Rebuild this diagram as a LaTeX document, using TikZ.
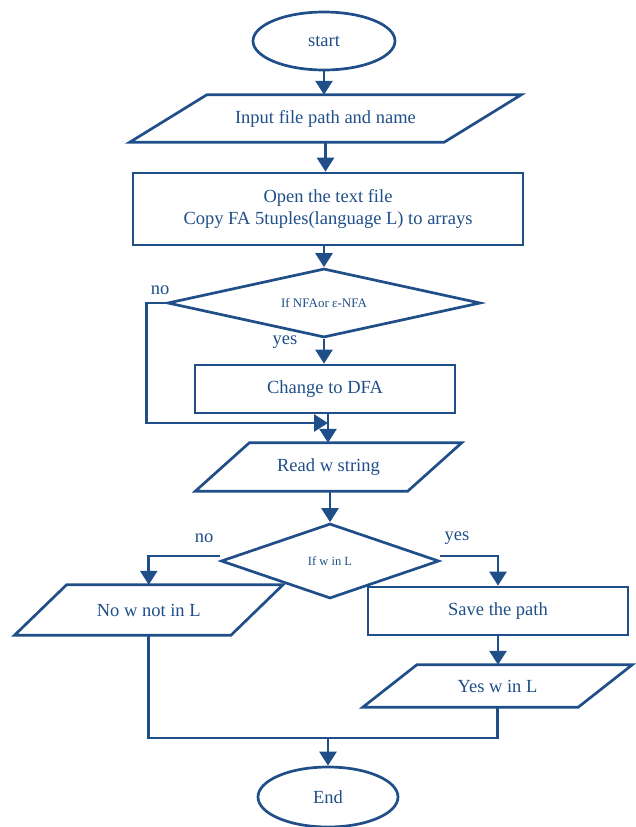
\documentclass[tikz,border=0pt]{standalone}
\usepackage{fontspec}
\setmainfont{Liberation Serif}
\usetikzlibrary{arrows.meta,shapes.geometric}
\definecolor{fc}{RGB}{31,78,137}
\begin{document}
\begin{tikzpicture}[x=1pt,y=-1pt,
  every node/.style={text=fc,font=\fontsize{18.5}{22}\selectfont},
  ln/.style={draw=fc,line width=2.7pt},
  arr/.style={ln,-{Triangle[length=14pt,width=17pt]}},
  term/.style={ln,ellipse,inner sep=0pt},
  proc/.style={ln,rectangle,inner sep=0pt},
  decis/.style={ln,diamond,inner sep=0pt,font=\fontsize{13}{15}\selectfont},
  iobox/.style={rectangle,inner sep=0pt},
  lbl/.style={font=\fontsize{18.5}{22}\selectfont}]
\useasboundingbox (0,0) rectangle (635,827);
% nodes
\node[term,minimum width=142pt,minimum height=58pt] (start) at (324,41) {start};
\node[iobox,minimum width=314pt,minimum height=47pt] (inp) at (325.5,118.5) {Input file path and name};
\draw[ln] ([xshift=38.5pt]inp.north west) -- ([xshift=38.5pt]inp.north east) -- ([xshift=-38.5pt]inp.south east) -- ([xshift=-38.5pt]inp.south west) -- cycle;
\node[proc,minimum width=390pt,minimum height=72pt,align=center] (open) at (328,209) {Open the text file\\Copy FA 5tuples(language L) to arrays};
\node[decis,aspect=4.5,minimum width=313pt,minimum height=69pt] (d1) at (324,303) {If NFAor ε-NFA};
\node[proc,minimum width=260pt,minimum height=48pt] (dfa) at (325,389) {Change to DFA};
\node[iobox,minimum width=212pt,minimum height=48pt] (read) at (328.5,467) {Read w string};
\draw[ln] ([xshift=27pt]read.north west) -- ([xshift=27pt]read.north east) -- ([xshift=-27pt]read.south east) -- ([xshift=-27pt]read.south west) -- cycle;
\node[decis,aspect=2.9,minimum width=218pt,minimum height=75pt,font=\fontsize{12.5}{14}\selectfont] (d2) at (330,561) {If w in L};
\node[iobox,minimum width=216pt,minimum height=50pt] (no) at (148.75,610) {No w not in L};
\draw[ln] ([xshift=26pt]no.north west) -- ([xshift=26pt]no.north east) -- ([xshift=-26pt]no.south east) -- ([xshift=-26pt]no.south west) -- cycle;
\node[proc,minimum width=260pt,minimum height=48pt] (save) at (498,611) {Save the path};
\node[iobox,minimum width=215pt,minimum height=42pt] (yes) at (497.5,686) {Yes w in L};
\draw[ln] ([xshift=27pt]yes.north west) -- ([xshift=27pt]yes.north east) -- ([xshift=-27pt]yes.south east) -- ([xshift=-27pt]yes.south west) -- cycle;
\node[term,minimum width=140pt,minimum height=60pt] (end) at (328,797) {End};
% labels
\node[lbl] (l1) at (160,290) {no};
\node[lbl] (l2) at (285,342) {yes};
\node[lbl] (l3) at (204,538) {no};
\node[lbl] (l4) at (457,538) {yes};
% junctions
\coordinate (j1) at (328,423);
\coordinate (j2) at (328,738);
% connectors
\draw[arr] (start.south) -- (start.south |- inp.north);
\draw[arr] (inp.south) -- (inp.south |- open.north);
\draw[arr] (d1.north |- open.south) -- (d1.north);
\draw[arr] (d1.south) -- (d1.south |- dfa.north);
\draw[arr] (d1.west) -- ++(-19.5,0) |- (j1);
\draw[arr] (j1 |- dfa.south) -- (j1 |- read.north);
\draw[arr] (d2.north |- read.south) -- (d2.north);
\draw[arr] ([yshift=5pt]d2.west) -| (no.north);
\draw[arr] ([yshift=5pt]d2.east) -| (save.north);
\draw[arr] (save.south) -- (save.south |- yes.north);
\draw[ln] (no.south) |- (j2) -| (yes.south);
\draw[arr] (j2) -- (end.north);
\end{tikzpicture}
\end{document}
